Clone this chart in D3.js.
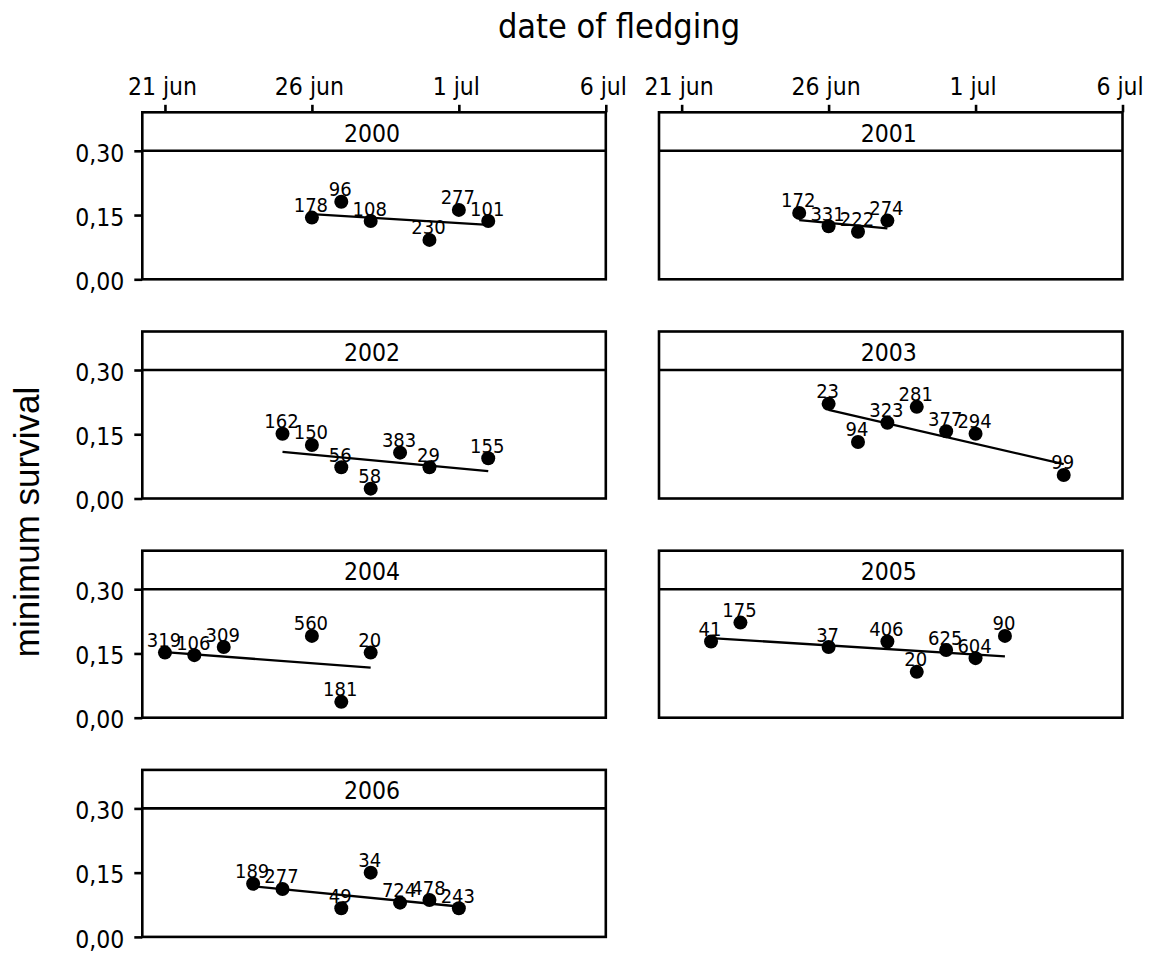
<!DOCTYPE html>
<html><head><meta charset="utf-8">
<script src="https://cdn.jsdelivr.net/npm/d3@7"></script>
<style>
body{margin:0;background:#fff}
text{font-family:"DejaVu Sans Condensed","DejaVu Sans",sans-serif;font-stretch:condensed;fill:#000}
</style>
</head><body><svg id="chart" width="1158" height="953"></svg>
<script>
const panelYears = ["2000","2001","2002","2003","2004","2005","2006"];
const fledgeDates = [
 ["06-26","06-27","06-28","06-30","07-01","07-02"],
 ["06-25","06-26","06-27","06-28"],
 ["06-25","06-26","06-27","06-28","06-29","06-30","07-02"],
 ["06-26","06-27","06-28","06-29","06-30","07-01","07-04"],
 ["06-21","06-22","06-23","06-26","06-27","06-28"],
 ["06-22","06-23","06-26","06-28","06-29","06-30","07-01","07-02"],
 ["06-24","06-25","06-27","06-28","06-29","06-30","07-01"]
];
const minSurvival = [
 [0.144,0.181,0.136,0.092,0.162,0.136],
 [0.155,0.124,0.111,0.137],
 [0.151,0.125,0.073,0.023,0.107,0.073,0.094],
 [0.221,0.132,0.177,0.214,0.157,0.151,0.055],
 [0.152,0.146,0.165,0.191,0.037,0.152],
 [0.178,0.222,0.165,0.178,0.107,0.158,0.139,0.191],
 [0.124,0.112,0.067,0.150,0.080,0.086,0.067]
];
const sampleSizes = [
 [178,96,108,230,277,101],
 [172,331,222,274],
 [162,150,56,58,383,29,155],
 [23,94,323,281,377,294,99],
 [319,106,309,560,181,20],
 [41,175,37,406,20,625,604,90],
 [189,277,49,34,724,478,243]
];
const trendDates = [["06-26","07-02"],["06-25","06-28"],["06-25","07-02"],["06-26","07-04"],["06-21","06-28"],["06-22","07-02"],["06-24","07-01"]];
const trendValues = [[0.152,0.127],[0.138,0.119],[0.109,0.064],[0.207,0.080],[0.153,0.117],[0.186,0.143],[0.118,0.071]];
const xTickDates = ["06-21","06-26","07-01","07-06"];
const xTickLabels = ["21 jun","26 jun","1 jul","6 jul"];
const yTickValues = [0, 0.15, 0.30];
const yTickLabels = ["0,00","0,15","0,30"];

const svg = d3.select("#chart");
const parseMD = s => { const [m,d] = s.split("-").map(Number); return new Date(2000, m-1, d); };
const colX = [142.3, 659], panelW = 463.5;
const rowY = [112.3, 331.5, 550.7, 769.9], stripH = 38.5, plotH = 128.5;
const xDomain = [new Date(2000,5,20,5,30), parseMD("07-06")];
const x = d3.scaleTime().domain(xDomain).range([0, panelW]);
const y = d3.scaleLinear().domain([0, 0.30]).range([plotH, 0]);
const SW = 2.6;

panelYears.forEach((yr, i) => {
  const c = i % 2, r = Math.floor(i / 2);
  const g = svg.append("g").attr("transform", `translate(${colX[c]},${rowY[r]})`);
  const plot = g.append("g").attr("transform", `translate(0,${stripH})`);
  const pts = fledgeDates[i].map((d, k) => ({d: parseMD(d), v: minSurvival[i][k], n: sampleSizes[i][k]}));

  plot.append("line")
    .attr("x1", x(parseMD(trendDates[i][0]))).attr("y1", y(trendValues[i][0]))
    .attr("x2", x(parseMD(trendDates[i][1]))).attr("y2", y(trendValues[i][1]))
    .attr("stroke", "#000").attr("stroke-width", 2.3);

  plot.selectAll("circle").data(pts).join("circle")
    .attr("cx", p => x(p.d)).attr("cy", p => y(p.v)).attr("r", 7).attr("fill", "#000");

  plot.selectAll("text.lab").data(pts).join("text").attr("class", "lab")
    .attr("x", p => x(p.d) - 1).attr("y", p => y(p.v) - 5.5)
    .attr("text-anchor", "middle").attr("font-size", 20).text(p => p.n);

  g.append("rect").attr("width", panelW).attr("height", stripH + plotH)
    .attr("fill", "none").attr("stroke", "#000").attr("stroke-width", SW);
  g.append("line").attr("x1", 0).attr("x2", panelW).attr("y1", stripH).attr("y2", stripH)
    .attr("stroke", "#000").attr("stroke-width", SW);
  g.append("text").attr("x", panelW / 2 - 2).attr("y", stripH / 2 + 10)
    .attr("text-anchor", "middle").attr("font-size", 24.5).text(yr);

  if (r === 0) {
    const ax = g.append("g").call(d3.axisTop(x)
      .tickValues(xTickDates.map(parseMD))
      .tickFormat((d, k) => xTickLabels[k])
      .tickSize(7.5).tickSizeOuter(0).tickPadding(10));
    ax.select(".domain").remove();
    ax.selectAll("line").attr("stroke", "#000").attr("stroke-width", SW);
    ax.selectAll("text").attr("font-size", 24.5).attr("font-family", null).attr("x", -3).attr("fill", "#000");
  }
  if (c === 0) {
    const ay = plot.append("g").call(d3.axisLeft(y)
      .tickValues(yTickValues)
      .tickFormat((d, k) => yTickLabels[k])
      .tickSize(8).tickSizeOuter(0).tickPadding(10));
    ay.select(".domain").remove();
    ay.selectAll("line").attr("stroke", "#000").attr("stroke-width", SW);
    ay.selectAll("text").attr("font-size", 24.5).attr("font-family", null).attr("dy", "0.42em").attr("fill", "#000");
  }
});

svg.append("text").attr("x", 619).attr("y", 38.3).attr("text-anchor", "middle")
  .attr("font-size", 34).text("date of fledging");
svg.append("text").attr("transform", "translate(39,522) rotate(-90)")
  .attr("text-anchor", "middle").attr("font-size", 35)
  .style("font-family", "'Liberation Sans', Arial, sans-serif").style("font-stretch", "normal")
  .text("minimum survival");
</script>
</body></html>
